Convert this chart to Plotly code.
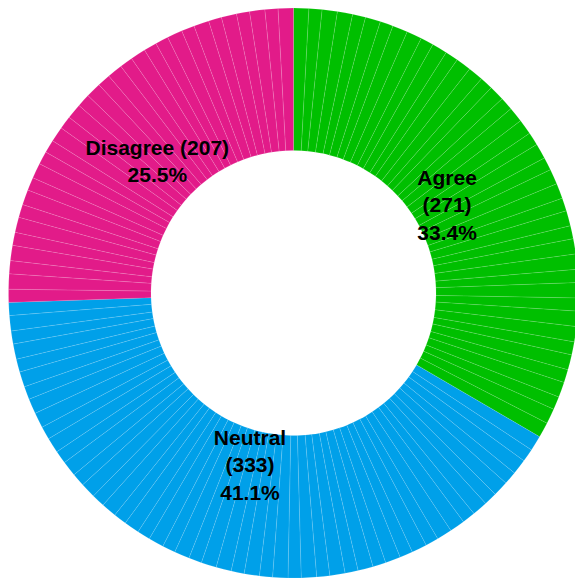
import plotly.graph_objects as go

# Category totals
categories = ["Agree", "Neutral", "Disagree"]
totals = [271, 333, 207]
percents = ["33.4%", "41.1%", "25.5%"]
label_texts = ["Agree<br>(271)<br>33.4%", "Neutral<br>(333)<br>41.1%", "Disagree (207)<br>25.5%"]
colors = {"Agree": "#00BF00", "Neutral": "#00A0E9", "Disagree": "#E21B89"}

# Sub-slices (thin wedges) inside each category, estimated from the seams
agree_parts = [7, 6, 7, 7, 6, 7, 6, 7, 7, 6, 7, 6, 7, 7, 6, 7, 6, 7, 7, 6, 7,
               6, 7, 7, 6, 7, 6, 7, 7, 6, 7, 6, 7, 7, 6, 7, 6, 7, 6, 7, 7]
neutral_parts = [7, 6, 7, 6, 7, 6, 7, 6, 7, 7, 6, 7, 6, 7, 6, 7, 6, 7, 6, 7, 6,
                 7, 6, 7, 6, 7, 7, 6, 7, 6, 7, 6, 7, 6, 7, 6, 7, 6, 7, 6, 7, 6,
                 7, 7, 6, 7, 6, 7, 6, 7, 6]
disagree_parts = [6, 7, 6, 7, 6, 7, 6, 7, 6, 7, 6, 6, 7, 6, 7, 6, 7, 6, 7, 6, 7,
                  6, 6, 7, 6, 7, 6, 7, 6, 7, 6, 7]

parts = {"Agree": agree_parts, "Neutral": neutral_parts, "Disagree": disagree_parts}

sub_labels, sub_values, sub_colors = [], [], []
for cat in categories:
    for i, v in enumerate(parts[cat]):
        sub_labels.append(f"{cat} {i + 1}")
        sub_values.append(v)
        sub_colors.append(colors[cat])

fig = go.Figure()
fig.add_trace(go.Pie(
    labels=sub_labels, values=sub_values, hole=0.5, sort=False,
    direction="clockwise", rotation=0,
    marker=dict(colors=sub_colors, line=dict(width=0.3, color="rgba(255,255,255,0.4)")),
    textinfo="none", hoverinfo="skip", showlegend=False,
))
# transparent overlay carrying the category labels
fig.add_trace(go.Pie(
    labels=categories, values=totals, hole=0.3, sort=False,
    direction="clockwise", rotation=0, pull=[0, 0, 0.045],
    marker=dict(colors=["rgba(0,0,0,0)"] * 3, line=dict(width=0)),
    text=label_texts, textinfo="text", textposition="inside",
    insidetextorientation="horizontal",
    textfont=dict(family="Liberation Sans, Arial, sans-serif", size=21,
                  color="black", weight="bold"),
    hovertemplate="%{label}: %{value} (%{percent})<extra></extra>",
    showlegend=False,
))
fig.update_layout(
    width=579, height=578,
    margin=dict(l=8, r=0, t=8, b=0),
    paper_bgcolor="white", plot_bgcolor="white",
    showlegend=False,
)
fig.write_html(
    "out.html",
    config={"displayModeBar": False},
    post_script="document.body.style.margin='0';"
                "document.documentElement.style.overflow='hidden';"
                "document.body.style.overflow='hidden';",
)
